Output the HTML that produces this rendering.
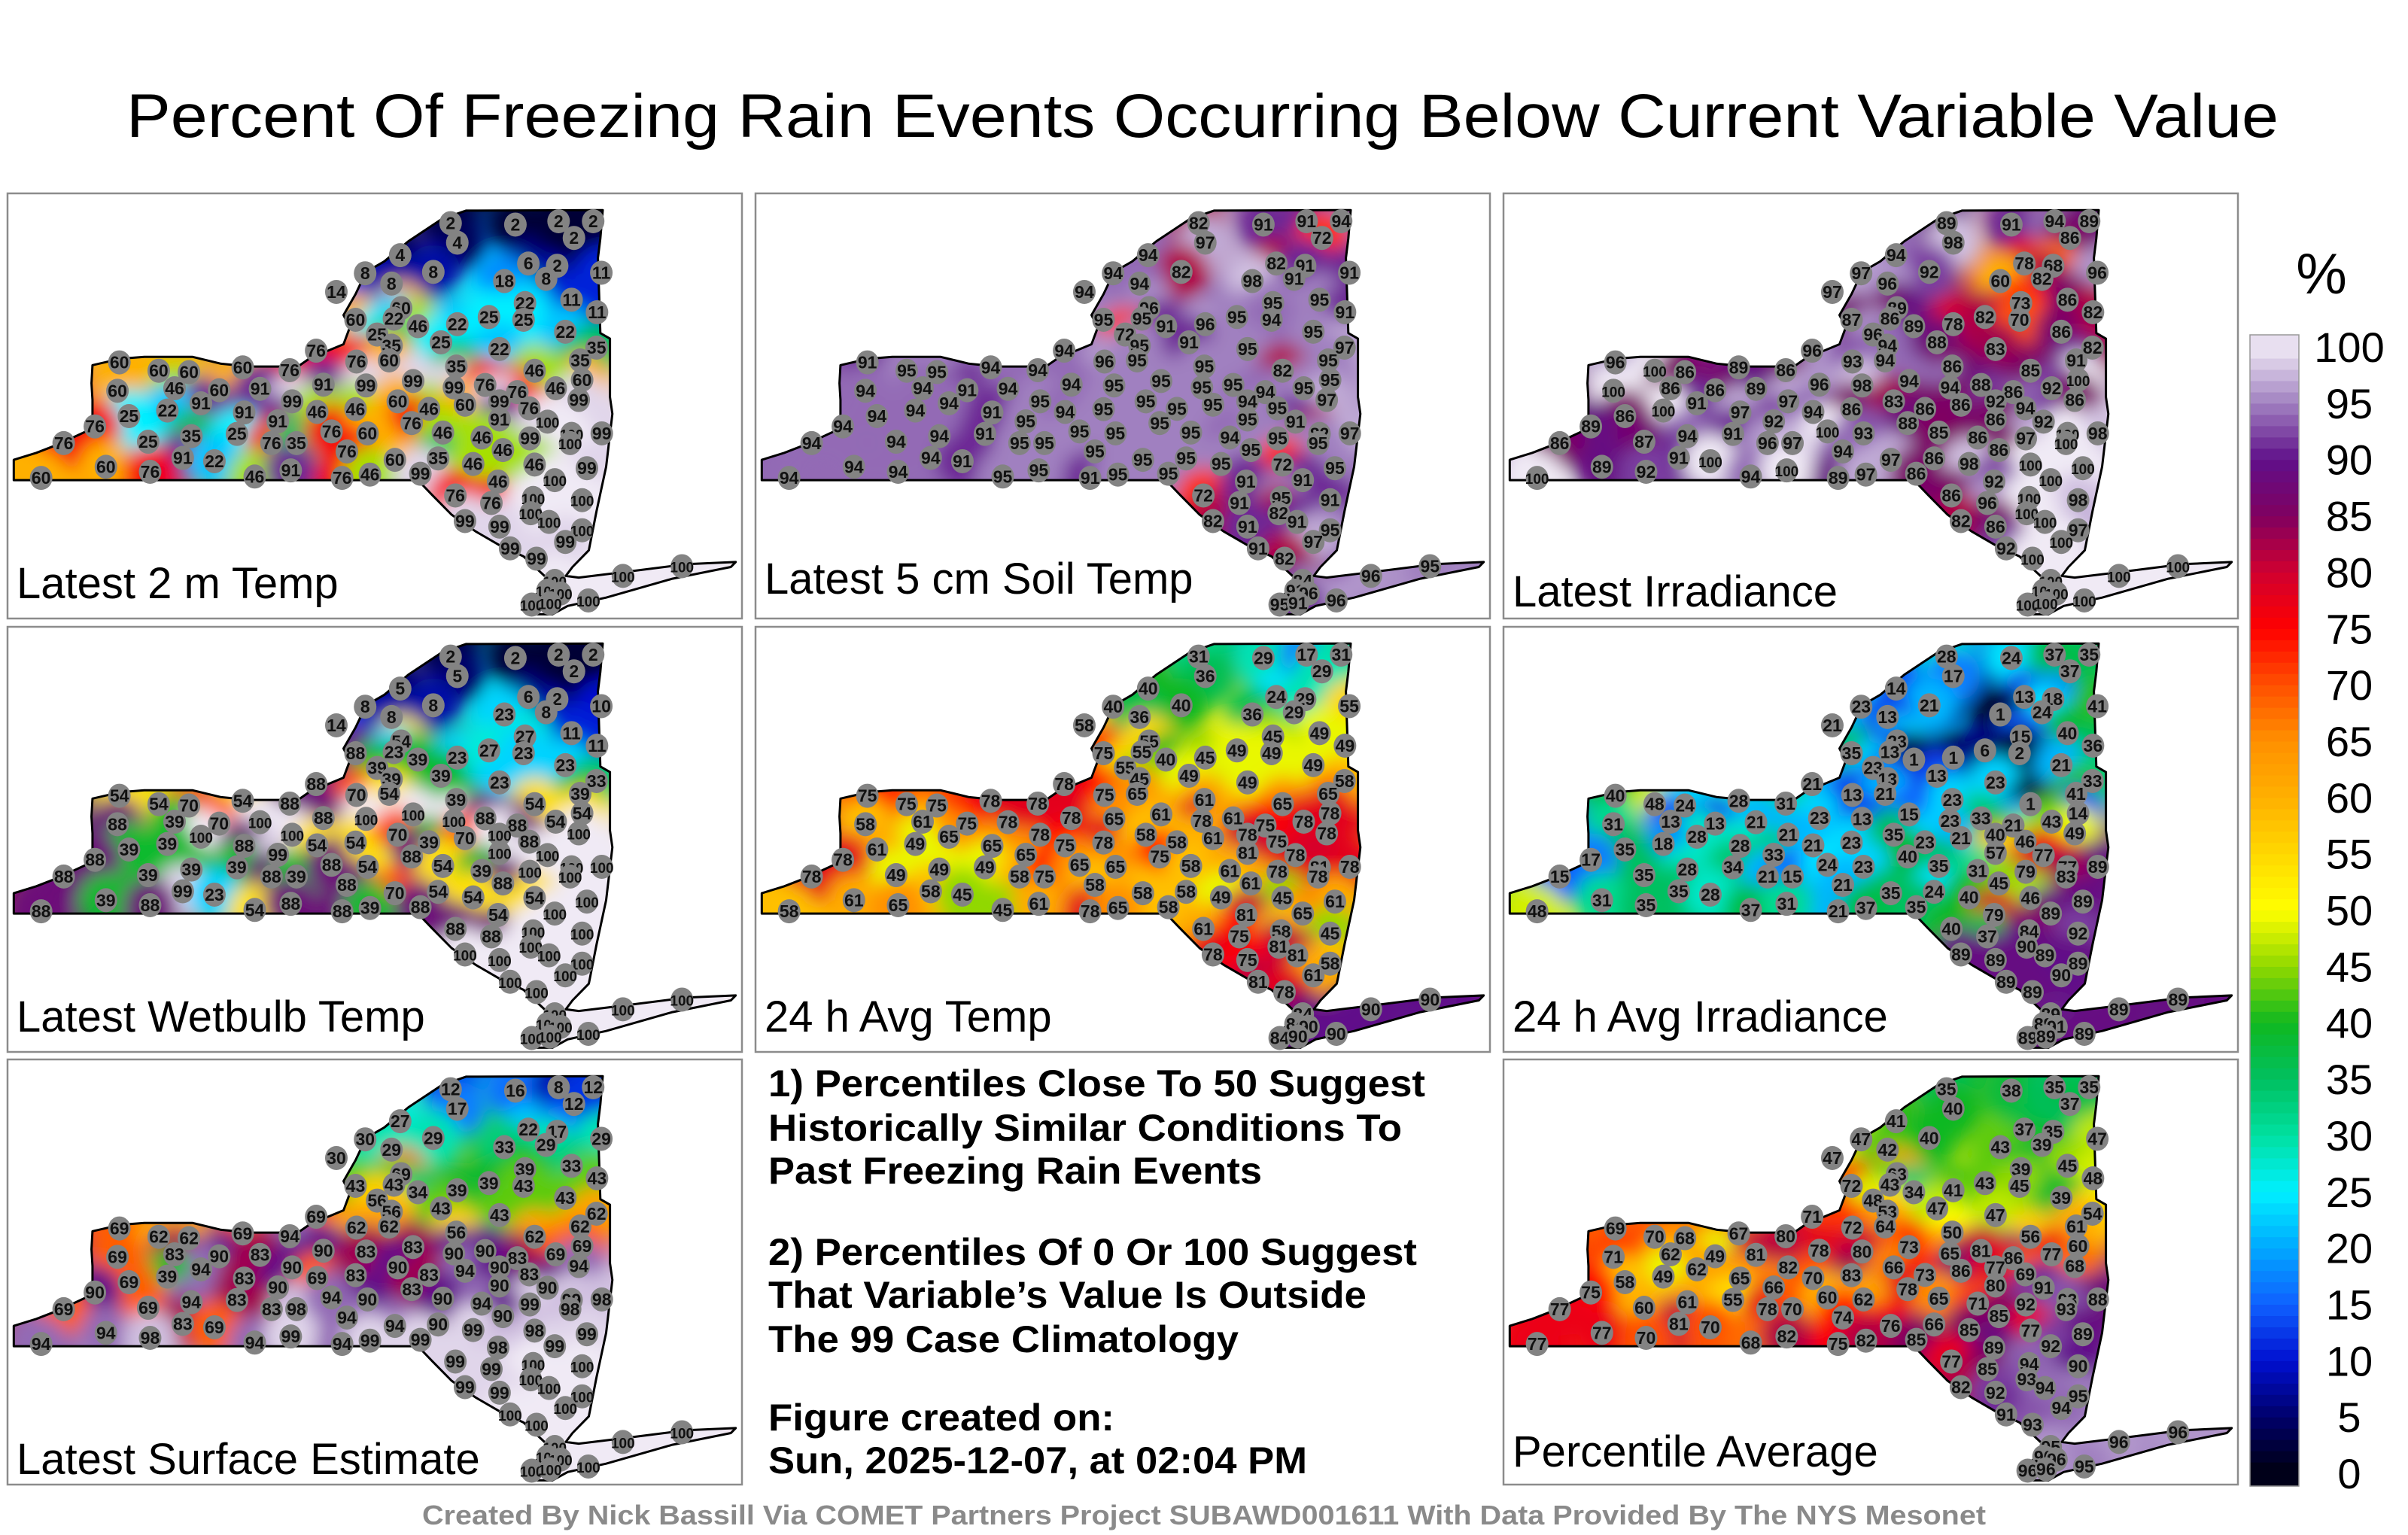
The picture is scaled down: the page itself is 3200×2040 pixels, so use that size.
<!DOCTYPE html>
<html><head><meta charset="utf-8"><title>Percent Of Freezing Rain Events</title>
<style>
html,body{margin:0;padding:0;background:#fff;}
svg{display:block;font-family:"Liberation Sans",Arial,sans-serif;}
</style></head>
<body>
<svg id="fig" xmlns="http://www.w3.org/2000/svg" width="3200" height="2040" viewBox="0 0 3200 2040">
<defs>
<filter id="blur" x="-20%" y="-20%" width="140%" height="140%"><feGaussianBlur stdDeviation="12"/></filter>
<filter id="blurBig" x="-20%" y="-20%" width="140%" height="140%"><feGaussianBlur stdDeviation="25"/></filter>
<clipPath id="stateClip" clipPathUnits="userSpaceOnUse"><path id="clipPathShape" d=""/></clipPath>
</defs>
<rect width="3200" height="2040" fill="#fff"/>
<text x="1598" y="182" font-size="82" text-anchor="middle" textLength="2860" lengthAdjust="spacingAndGlyphs">Percent Of Freezing Rain Events Occurring Below Current Variable Value</text>
<g id="panels"></g>
<g id="notes" font-weight="bold" font-size="50">
<text x="1021" y="1457" textLength="873" lengthAdjust="spacingAndGlyphs">1) Percentiles Close To 50 Suggest</text>
<text x="1021" y="1516" textLength="842" lengthAdjust="spacingAndGlyphs">Historically Similar Conditions To</text>
<text x="1021" y="1573" textLength="656" lengthAdjust="spacingAndGlyphs">Past Freezing Rain Events</text>
<text x="1021" y="1681" textLength="862" lengthAdjust="spacingAndGlyphs">2) Percentiles Of 0 Or 100 Suggest</text>
<text x="1021" y="1738" textLength="795" lengthAdjust="spacingAndGlyphs">That Variable’s Value Is Outside</text>
<text x="1021" y="1797" textLength="625" lengthAdjust="spacingAndGlyphs">The 99 Case Climatology</text>
<text x="1021" y="1901" textLength="460" lengthAdjust="spacingAndGlyphs">Figure created on:</text>
<text x="1021" y="1958" textLength="716" lengthAdjust="spacingAndGlyphs">Sun, 2025-12-07, at 02:04 PM</text>
</g>
<g id="colorbar"></g>
<text x="1600" y="2026" font-size="36" font-weight="bold" fill="#8a8a8a" text-anchor="middle" textLength="2078" lengthAdjust="spacingAndGlyphs">Created By Nick Bassill Via COMET Partners Project SUBAWD001611 With Data Provided By The NYS Mesonet</text>
</svg>
<script>
// ---- station locations (normalized map coordinates, reference-map units) ----
const stationX = [938,1073,1163,1235,1195,952,833,760,902,815,700,1100,1160,1137,1252,1050,1190,1243,1093,835,740,820,870,952,1018,1090,1177,785,815,918,1040,1242,1208,658,742,810,950,1113,1212,248,330,393,505,603,244,363,456,541,673,762,860,945,1010,1077,1157,1205,418,348,608,268,508,578,660,740,828,893,968,1040,1102,197,1040,1140,857,132,308,398,493,565,617,690,765,922,1003,1103,1190,1253,1187,722,1047,380,446,220,312,530,605,912,822,985,1113,1222,85,712,770,875,1037,1155,948,1023,1110,1212,1105,1143,968,1040,1212,1177,1062,1117,1420,1297,1155,1140,1167,1225,1107,1145];
const stationY = [125,130,118,118,178,195,240,305,300,342,372,270,278,325,303,333,400,445,412,430,472,468,495,488,462,472,515,525,565,553,577,572,618,583,622,618,640,655,688,625,655,660,643,653,727,718,725,720,705,708,692,715,706,732,718,760,772,798,765,818,805,837,803,793,765,792,777,765,790,855,830,838,843,915,910,890,882,915,915,873,880,877,895,898,882,880,915,945,940,968,980,1000,1018,1035,1013,970,975,990,992,1005,1040,1040,1028,1025,1053,1048,1103,1130,1112,1120,1167,1198,1195,1215,1228,1270,1293,1330,1357,1392,1410,1445,1455,1480,1495,1490];

// ---- percentile values per panel ----
const temp2m = [2,2,2,2,2,4,4,8,8,8, 14,6,2,8,11,18,11,11,22,60, 60,22,46,22,25,25,22,25,35,25, 22,35,35,76,76,60,35,46,60,60, 60,60,60,76,60,46,60,91,91,99, 99,99,76,76,46,99,91,22,99,25, 91,91,46,46,60,46,60,99,76,76, 91,100,76,76,25,35,25,76,35,76, 60,46,46,99,100,99,100,76,46,91, 22,60,76,46,91,35,60,46,46,99, 60,76,46,99,46,100,76,76,100,100, 100,100,99,99,100,99,99,99,100,100, 100,100,100,100,100,100];
const soilTemp = [82,91,91,94,72,97,94,94,82,94, 94,82,91,91,91,98,95,91,95,96, 95,95,91,96,95,94,95,72,95,91, 95,97,95,94,96,95,95,82,95,91, 95,95,94,94,94,94,91,94,94,95, 95,95,95,94,95,97,94,94,95,94, 91,95,94,95,95,95,95,94,95,94, 95,91,95,94,94,94,91,95,95,95, 95,95,94,95,82,97,95,95,95,94, 91,94,94,95,95,95,95,95,72,95, 94,91,95,95,91,91,72,91,95,91, 82,91,82,91,95,97,91,82,95,96, 84,91,96,96,95,91];
const irradiance = [89,91,94,89,86,98,94,97,92,96, 97,78,68,82,96,60,86,82,73,89, 87,86,89,78,82,70,86,96,94,88, 83,82,91,96,93,94,86,85,100,96, 100,86,89,86,100,86,86,89,96,98, 94,94,88,86,92,86,91,100,97,86, 97,92,94,86,83,86,86,92,94,89, 86,92,88,86,87,94,91,96,97,100, 93,85,86,97,100,98,100,94,86,91, 100,89,92,94,100,86,97,98,100,100, 100,89,97,86,92,100,86,96,100,98, 100,100,82,86,97,100,92,100,100,100, 100,100,100,100,100,100];
const wetbulb = [2,2,2,2,2,5,5,8,8,8, 14,6,2,8,10,23,11,11,27,54, 88,23,39,23,27,23,23,39,39,39, 23,33,39,88,70,54,39,54,54,54, 54,70,54,88,88,39,70,100,88,100, 100,100,88,88,54,100,100,39,100,39, 88,99,54,54,70,39,70,100,88,88, 100,100,88,88,39,39,39,88,39,88, 54,54,39,100,100,100,100,88,88,99, 23,39,88,54,88,54,70,54,54,100, 88,88,39,88,54,100,88,88,100,100, 100,100,100,100,100,100,100,100,100,100, 100,100,100,100,100,100];
const avgTemp24 = [31,29,17,31,29,36,40,40,40,36, 58,24,29,29,55,36,49,49,45,55, 75,55,40,45,49,49,49,55,45,49, 49,58,65,78,75,65,61,65,78,75, 75,75,78,78,58,61,75,78,78,65, 61,78,61,75,78,78,65,49,78,61, 65,65,75,78,58,58,61,78,75,78, 81,78,75,78,49,49,49,58,75,65, 65,58,61,78,81,78,78,58,61,58, 45,61,65,45,61,58,58,49,45,61, 58,78,65,58,81,65,61,75,58,45, 81,81,78,75,58,61,81,78,90,90, 84,84,90,90,84,90];
const avgIrr24 = [28,24,37,35,37,17,14,23,21,13, 21,13,18,24,41,1,40,36,15,23, 35,13,1,1,6,2,21,23,13,13, 23,33,41,21,13,21,23,1,14,40, 48,24,28,31,31,13,13,21,23,13, 15,23,33,21,43,49,28,18,21,35, 28,33,21,23,35,23,21,40,46,17, 57,77,40,15,35,28,34,21,15,24, 23,35,31,79,77,89,83,21,45,35, 28,31,35,37,31,24,35,40,46,89, 48,21,37,35,79,89,40,37,84,92, 90,89,89,89,89,90,89,89,89,89, 89,89,91,89,89,89];
const surfaceEst = [12,16,8,12,12,17,27,30,29,29, 30,22,17,29,29,33,33,43,39,69, 43,43,34,39,39,43,43,56,56,43, 43,62,62,69,62,62,56,62,69,69, 62,62,69,94,69,83,90,83,90,83, 83,90,90,83,69,94,94,39,90,69, 83,90,69,83,90,83,94,90,83,90, 90,90,83,69,69,94,83,83,98,94, 90,90,94,99,99,98,98,94,90,83, 69,94,98,94,99,90,94,99,98,99, 94,94,99,99,98,99,99,99,100,100, 100,100,99,99,100,100,100,100,100,100, 100,100,100,100,100,100];
const pctAverage = [35,38,35,35,37,40,41,47,40,42, 47,37,35,39,47,43,45,48,39,63, 72,43,34,41,43,45,39,48,53,47, 47,54,61,71,72,64,50,56,60,69, 70,68,67,80,71,62,49,81,78,80, 73,65,81,86,77,68,62,49,82,58, 65,66,70,83,66,73,86,77,69,75, 80,91,78,77,60,61,55,78,70,60, 62,65,71,92,93,88,93,74,85,81, 70,77,70,68,82,66,76,85,77,89, 77,75,82,85,89,92,77,85,94,90, 93,94,82,92,95,94,91,93,96,96, 95,96,96,95,96,96];

const panelTitles = ["Latest 2 m Temp","Latest 5 cm Soil Temp","Latest Irradiance","Latest Wetbulb Temp","24 h Avg Temp","24 h Avg Irradiance","Latest Surface Estimate","Percentile Average"];
const panelSeries = [temp2m,soilTemp,irradiance,wetbulb,avgTemp24,avgIrr24,surfaceEst,pctAverage];
const colorbarTicks = [0,5,10,15,20,25,30,35,40,45,50,55,60,65,70,75,80,85,90,95,100];

// ---- colormap ----
const cmapStops = [[0,[0,0,16]],[5,[0,0,106]],[10,[0,16,208]],[15,[16,96,255]],[20,[0,168,255]],[25,[0,240,255]],[30,[0,224,160]],[35,[0,192,96]],[40,[16,184,32]],[45,[144,216,0]],[50,[255,255,0]],[55,[255,216,0]],[60,[255,176,0]],[65,[255,144,0]],[70,[255,80,0]],[75,[255,0,0]],[80,[208,0,48]],[85,[128,0,96]],[90,[96,16,138]],[95,[160,128,192]],[100,[240,234,245]]];
function cmap(v){
  v=Math.max(0,Math.min(100,v));
  for(let i=1;i<cmapStops.length;i++){
    const a=cmapStops[i-1],b=cmapStops[i];
    if(v<=b[0]){const t=(v-a[0])/(b[0]-a[0]);
      const c=a[1].map((x,k)=>Math.round(x+(b[1][k]-x)*t));
      return `rgb(${c[0]},${c[1]},${c[2]})`;}
  }
  return 'rgb(240,234,245)';
}

// ---- geometry ----
const PW=976, PH=565;
const mx = zx => (zx-15)/1530*PW;
const my = zy => (zy-18)/1527*PH;
const statePts=[[28,975],[75,950],[120,920],[170,880],[192,862],[192,760],[190,700],[192,635],[250,612],[300,605],[400,605],[460,630],[520,640],[620,640],[645,610],[715,560],[728,500],[715,455],[740,380],[762,300],[800,262],[850,190],[920,110],[970,80],[1255,78],[1250,180],[1245,250],[1250,520],[1270,540],[1270,750],[1275,810],[1262,1000],[1242,1160],[1226,1300],[1192,1360],[1178,1392],[1205,1398],[1300,1378],[1430,1350],[1532,1342],[1522,1360],[1400,1402],[1262,1470],[1182,1500],[1150,1530],[1118,1530],[1092,1490],[1130,1440],[1140,1402],[1090,1322],[1040,1282],[990,1232],[940,1172],[900,1102],[870,1048],[28,1048]];
const stateD = 'M'+statePts.map(p=>mx(p[0]).toFixed(1)+','+my(p[1]).toFixed(1)).join('L')+'Z';
document.getElementById('clipPathShape').setAttribute('d',stateD);

const NS='http://www.w3.org/2000/svg';
function el(tag,attrs,parent){const e=document.createElementNS(NS,tag);for(const k in attrs)e.setAttribute(k,attrs[k]);if(parent)parent.appendChild(e);return e;}

const colX=[10,1004,1998], rowY=[257,833,1408];
const panelPos=[[0,0],[1,0],[2,0],[0,1],[1,1],[2,1],[0,2],[2,2]];
const labelBase=[538,532,549,538,538,538,551,541];
const panelsG=document.getElementById('panels');

panelSeries.forEach((vals,pi)=>{
  const [c,r]=panelPos[pi];
  const g=el('g',{transform:`translate(${colX[c]},${rowY[r]})`},panelsG);
  
  
  const frame=el('rect',{x:0,y:0,width:PW,height:PH,fill:'#fff',stroke:'#8c8c8c','stroke-width':2.5},g);
  
  
  const mean=vals.reduce((a,b)=>a+b,0)/vals.length;
  const clipG=el('g',{'clip-path':'url(#stateClip)'},g);
  
  
  el('path',{d:stateD,fill:cmap(mean)},clipG);
  // broad underlayer to fill gaps (e.g. Long Island tip)
  const bigG=el('g',{filter:'url(#blurBig)'},clipG);
  vals.forEach((v,i)=>{
    const big=el('circle',{cx:mx(stationX[i]),cy:my(stationY[i]),r:i>=118?110:70,fill:cmap(v)},bigG);
    
    
  });
  const blurG=el('g',{filter:'url(#blur)'},clipG);
  vals.forEach((v,i)=>{
    const blob=el('circle',{cx:mx(stationX[i]),cy:my(stationY[i]),r:36,fill:cmap(v)},blurG);
    
    
  });
  const outline=el('path',{d:stateD,fill:'none',stroke:'#000','stroke-width':3,'stroke-linejoin':'round'},g);
  
  
  vals.forEach((v,i)=>{
    const x=mx(stationX[i]), y=my(stationY[i]);
    const dot=el('ellipse',{cx:x,cy:y,rx:15,ry:16,fill:'#838383'},g);
    
    
    const t=el('text',{x:x,y:y+8,'font-size':v>=100?19:23,'font-weight':'bold','text-anchor':'middle',fill:'#111'},g);
    
    
    t.textContent=v;
  });
  const lab=el('text',{x:12,y:labelBase[pi],'font-size':58,fill:'#000'},g);
  
  
  lab.textContent=panelTitles[pi];
});

// ---- colorbar ----
const cb=document.getElementById('colorbar');
const cbTop=445, cbBot=1975, cbX=2990, cbW=65;
const yTick = v => 1958 - v/100*(1958-461);
const nBands=100;
for(let i=0;i<nBands;i++){
  const v0=i, v1=i+1;
  const yA = i===0?cbBot:yTick(v0), yB = i===nBands-1?cbTop:yTick(v1);
  const band=el('rect',{x:cbX,y:yB,width:cbW,height:yA-yB+0.6,fill:cmap(v0+0.5)},cb);
  
  
}
const cbFrame=el('rect',{x:cbX,y:cbTop,width:cbW,height:cbBot-cbTop,fill:'none',stroke:'#999','stroke-width':1.5},cb);


colorbarTicks.forEach(v=>{
  const t=el('text',{x:3122,y:yTick(v)+20,'font-size':56,'text-anchor':'middle'},cb);
  
  
  t.textContent=v;
});
const pct=el('text',{x:3085,y:390,'font-size':76,'text-anchor':'middle'},cb);


pct.textContent='%';
</script>
</body></html>
